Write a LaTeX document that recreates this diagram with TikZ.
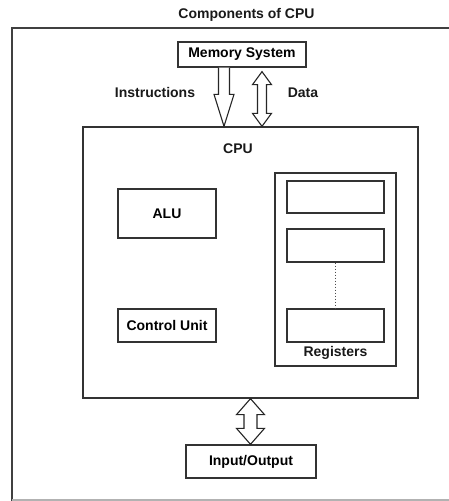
\documentclass[tikz,border=0pt]{standalone}
\usepackage{fontspec}
\setmainfont{Liberation Sans}
\usepackage{tikz}
\usetikzlibrary{calc}

% hollow block arrows, drawn from a top point #1 down to a bottom point #2
% #3 head length, #4 head half width, #5 shaft half width
\newcommand\twowayarrow[5]{%
  \draw[blockarrow] let \p1=(#1), \p2=(#2) in
    (\x1,\y1) -- (\x1+#4pt,\y1-#3pt) -- (\x1+#5pt,\y1-#3pt) -- (\x1+#5pt,\y2+#3pt)
    -- (\x1+#4pt,\y2+#3pt) -- (\x1,\y2) -- (\x1-#4pt,\y2+#3pt) -- (\x1-#5pt,\y2+#3pt)
    -- (\x1-#5pt,\y1-#3pt) -- (\x1-#4pt,\y1-#3pt) -- cycle;}
\newcommand\onewayarrow[5]{%
  \draw[blockarrow] let \p1=(#1), \p2=(#2) in
    (\x1-#5pt,\y1) -- (\x1-#5pt,\y2+#3pt) -- (\x1-#4pt,\y2+#3pt) -- (\x1,\y2)
    -- (\x1+#4pt,\y2+#3pt) -- (\x1+#5pt,\y2+#3pt) -- (\x1+#5pt,\y1);}

\begin{document}
\begin{tikzpicture}[x=1pt,y=1pt,
    font=\fontsize{14}{16}\selectfont\bfseries,
    box/.style={draw=black!80,line width=1.3pt,minimum width=#1,inner sep=0pt},
    blockarrow/.style={draw=black!85,line width=1.1pt,fill=white,line join=miter},
    lbl/.style={inner sep=0pt,text=black!90}]
        \useasboundingbox (0,0) rectangle (448,501);

        % frame and title
        \draw[black!75,line width=1.6pt] (452,473) -- (12,473) -- (12,0);
        \draw[black!30,line width=1.2pt] (12,1) -- (452,1);
        \node[lbl] (title) at (246.5,486) {Components of CPU};

        \node[box=128pt,minimum height=25pt] (mem) at (242,446.5) {Memory System};
        \node[box=335pt,minimum height=271pt] (cpu) at (250.5,238.5) {};
        \node[lbl] (cpulbl) at (238,352) {CPU};

        \node[box=98pt,minimum height=49pt] (alu) at (167,287.5) {ALU};
        \node[box=98pt,minimum height=33pt] (cu) at (167,175.5) {Control Unit};

        \node[box=121pt,minimum height=193pt] (regs) at (335.5,231.5) {};
        \node[box=97pt,minimum height=32pt] (r1) at (335.5,304) {};
        \node[box=97pt,minimum height=33pt] (r2) at (335.5,255.5) {};
        \node[box=97pt,minimum height=33pt] (r3) at (335.5,175.5) {};
        \node[lbl] (regslbl) at (335.5,148) {Registers};
        \draw[black!70,line width=1pt,dotted] (r2.south) -- (r3.north);

        \node[box=130pt,minimum height=33pt] (io) at (251,39.5) {Input/Output};

        % arrows
        \coordinate (insTop) at ($(mem.south)+(-18,0)$);
        \coordinate (insTip) at (insTop |- cpu.north);
        \coordinate (dataTop) at ($(mem.south)+(20,-4)$);
        \coordinate (dataTip) at (dataTop |- cpu.north);
        \onewayarrow{insTop}{insTip}{32}{10}{5.5}
        \twowayarrow{dataTop}{dataTip}{13}{9.5}{4.5}
        \twowayarrow{cpu.south}{io.north}{16}{14}{6.5}

        \node[lbl] (inslbl) at (155,408) {Instructions};
        \node[lbl] (datalbl) at (303,408) {Data};
        % Grid
        %\draw[help lines,step=10] (0,0) grid (448,501);
    \end{tikzpicture}
\end{document}
